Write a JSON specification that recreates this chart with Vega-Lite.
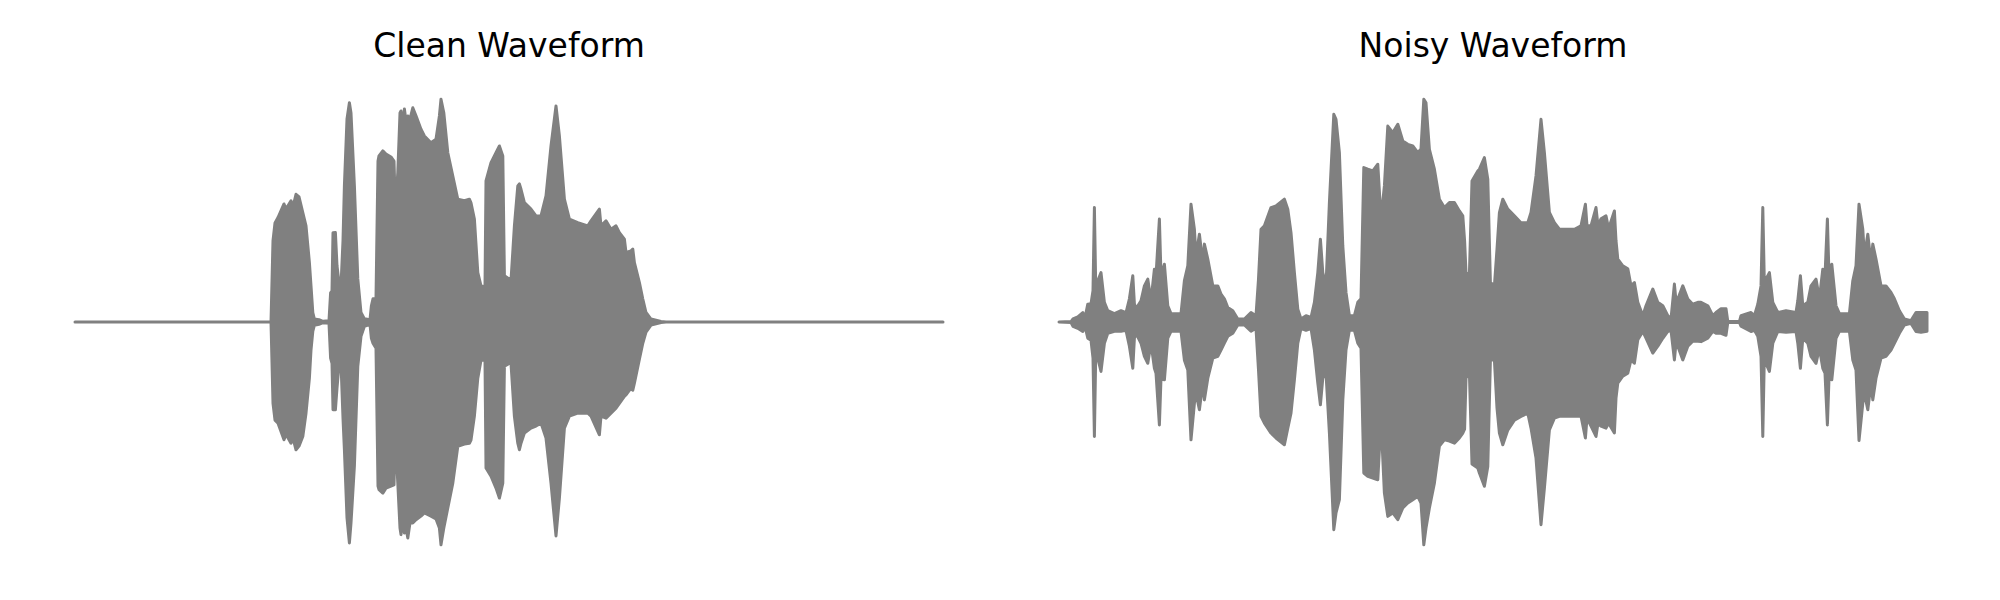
{
  "$schema": "https://vega.github.io/schema/vega-lite/v6.json",
  "background": "white",
  "padding": {"top": 31, "left": 73, "right": 0, "bottom": 0},
  "autosize": {"type": "pad"},
  "bounds": "flush",
  "spacing": 116,
  "config": {
    "view": {"stroke": null},
    "title": {"font": "DejaVu Sans", "fontSize": 33, "fontWeight": "normal", "color": "#000000", "offset": 21, "anchor": "middle"}
  },
  "datasets": {
    "clean": [
      {"t": 0, "hi": 0, "lo": 0}, {"t": 0.98, "hi": 0, "lo": 0}, {"t": 0.99, "hi": 0.36, "lo": -0.36}, {"t": 1.0, "hi": 0.439, "lo": -0.435},
      {"t": 1.015, "hi": 0.463, "lo": -0.448}, {"t": 1.045, "hi": 0.523, "lo": -0.522}, {"t": 1.055, "hi": 0.501, "lo": -0.497}, {"t": 1.08, "hi": 0.537, "lo": -0.537},
      {"t": 1.09, "hi": 0.51, "lo": -0.514}, {"t": 1.105, "hi": 0.566, "lo": -0.566}, {"t": 1.12, "hi": 0.554, "lo": -0.55}, {"t": 1.139, "hi": 0.485, "lo": -0.507},
      {"t": 1.155, "hi": 0.426, "lo": -0.404}, {"t": 1.172, "hi": 0.263, "lo": -0.249}, {"t": 1.18, "hi": 0.16, "lo": -0.124}, {"t": 1.189, "hi": 0.042, "lo": -0.041},
      {"t": 1.197, "hi": 0.013, "lo": -0.014}, {"t": 1.22, "hi": 0.01, "lo": -0.01}, {"t": 1.24, "hi": 0.003, "lo": -0.003}, {"t": 1.27, "hi": 0.006, "lo": -0.006},
      {"t": 1.278, "hi": 0.129, "lo": -0.16}, {"t": 1.285, "hi": 0.138, "lo": -0.183}, {"t": 1.29, "hi": 0.395, "lo": -0.389}, {"t": 1.302, "hi": 0.396, "lo": -0.389},
      {"t": 1.31, "hi": 0.249, "lo": -0.293}, {"t": 1.322, "hi": 0.16, "lo": -0.168}, {"t": 1.33, "hi": 0.16, "lo": -0.183}, {"t": 1.34, "hi": 0.36, "lo": -0.426},
      {"t": 1.347, "hi": 0.603, "lo": -0.566}, {"t": 1.36, "hi": 0.899, "lo": -0.868}, {"t": 1.372, "hi": 0.971, "lo": -0.979}, {"t": 1.38, "hi": 0.926, "lo": -0.89},
      {"t": 1.397, "hi": 0.603, "lo": -0.638}, {"t": 1.414, "hi": 0.191, "lo": -0.196}, {"t": 1.43, "hi": 0.042, "lo": -0.063}, {"t": 1.447, "hi": 0.014, "lo": -0.019},
      {"t": 1.475, "hi": 0.01, "lo": -0.01}, {"t": 1.482, "hi": 0.072, "lo": -0.072}, {"t": 1.49, "hi": 0.103, "lo": -0.094}, {"t": 1.505, "hi": 0.103, "lo": -0.116},
      {"t": 1.515, "hi": 0.713, "lo": -0.727}, {"t": 1.52, "hi": 0.736, "lo": -0.743}, {"t": 1.539, "hi": 0.758, "lo": -0.758}, {"t": 1.555, "hi": 0.744, "lo": -0.736},
      {"t": 1.58, "hi": 0.731, "lo": -0.727}, {"t": 1.595, "hi": 0.713, "lo": -0.722}, {"t": 1.602, "hi": 0.501, "lo": -0.492}, {"t": 1.614, "hi": 0.662, "lo": -0.714},
      {"t": 1.625, "hi": 0.926, "lo": -0.913}, {"t": 1.63, "hi": 0.935, "lo": -0.942}, {"t": 1.64, "hi": 0.868, "lo": -0.868}, {"t": 1.647, "hi": 0.944, "lo": -0.935},
      {"t": 1.655, "hi": 0.89, "lo": -0.913}, {"t": 1.664, "hi": 0.913, "lo": -0.957}, {"t": 1.675, "hi": 0.899, "lo": -0.89}, {"t": 1.689, "hi": 0.949, "lo": -0.89},
      {"t": 1.705, "hi": 0.913, "lo": -0.876}, {"t": 1.73, "hi": 0.854, "lo": -0.86}, {"t": 1.747, "hi": 0.824, "lo": -0.846}, {"t": 1.78, "hi": 0.794, "lo": -0.86},
      {"t": 1.805, "hi": 0.81, "lo": -0.873}, {"t": 1.822, "hi": 0.913, "lo": -0.913}, {"t": 1.83, "hi": 0.987, "lo": -0.987}, {"t": 1.844, "hi": 0.927, "lo": -0.913},
      {"t": 1.864, "hi": 0.75, "lo": -0.824}, {"t": 1.889, "hi": 0.647, "lo": -0.714}, {"t": 1.914, "hi": 0.544, "lo": -0.551}, {"t": 1.947, "hi": 0.537, "lo": -0.541},
      {"t": 1.972, "hi": 0.544, "lo": -0.537}, {"t": 1.98, "hi": 0.528, "lo": -0.523}, {"t": 1.997, "hi": 0.456, "lo": -0.417}, {"t": 2.014, "hi": 0.219, "lo": -0.249},
      {"t": 2.03, "hi": 0.16, "lo": -0.169}, {"t": 2.05, "hi": 0.156, "lo": -0.169}, {"t": 2.055, "hi": 0.625, "lo": -0.647}, {"t": 2.08, "hi": 0.706, "lo": -0.683},
      {"t": 2.105, "hi": 0.75, "lo": -0.736}, {"t": 2.122, "hi": 0.78, "lo": -0.78}, {"t": 2.139, "hi": 0.736, "lo": -0.714}, {"t": 2.147, "hi": 0.205, "lo": -0.196},
      {"t": 2.172, "hi": 0.19, "lo": -0.183}, {"t": 2.18, "hi": 0.183, "lo": -0.183}, {"t": 2.197, "hi": 0.426, "lo": -0.418}, {"t": 2.214, "hi": 0.603, "lo": -0.537},
      {"t": 2.222, "hi": 0.612, "lo": -0.566}, {"t": 2.23, "hi": 0.588, "lo": -0.537}, {"t": 2.247, "hi": 0.529, "lo": -0.492}, {"t": 2.28, "hi": 0.5, "lo": -0.47},
      {"t": 2.305, "hi": 0.47, "lo": -0.461}, {"t": 2.33, "hi": 0.47, "lo": -0.448}, {"t": 2.355, "hi": 0.559, "lo": -0.514}, {"t": 2.38, "hi": 0.78, "lo": -0.714},
      {"t": 2.405, "hi": 0.957, "lo": -0.948}, {"t": 2.422, "hi": 0.824, "lo": -0.78}, {"t": 2.447, "hi": 0.544, "lo": -0.47}, {"t": 2.472, "hi": 0.456, "lo": -0.417},
      {"t": 2.514, "hi": 0.44, "lo": -0.404}, {"t": 2.564, "hi": 0.426, "lo": -0.404}, {"t": 2.58, "hi": 0.448, "lo": -0.417}, {"t": 2.622, "hi": 0.5, "lo": -0.5},
      {"t": 2.63, "hi": 0.426, "lo": -0.417}, {"t": 2.655, "hi": 0.448, "lo": -0.426}, {"t": 2.68, "hi": 0.411, "lo": -0.404}, {"t": 2.705, "hi": 0.426, "lo": -0.382},
      {"t": 2.722, "hi": 0.396, "lo": -0.36}, {"t": 2.747, "hi": 0.367, "lo": -0.329}, {"t": 2.755, "hi": 0.308, "lo": -0.323}, {"t": 2.78, "hi": 0.315, "lo": -0.293},
      {"t": 2.789, "hi": 0.323, "lo": -0.302}, {"t": 2.797, "hi": 0.263, "lo": -0.271}, {"t": 2.822, "hi": 0.175, "lo": -0.165}, {"t": 2.839, "hi": 0.102, "lo": -0.094},
      {"t": 2.855, "hi": 0.042, "lo": -0.045}, {"t": 2.88, "hi": 0.013, "lo": -0.014}, {"t": 2.93, "hi": 0.002, "lo": -0.002}, {"t": 2.955, "hi": 0, "lo": 0},
      {"t": 4.34, "hi": 0, "lo": 0}
    ],
    "noisy": [
      {"t": 0, "hi": 0, "lo": 0}, {"t": 0.06, "hi": 0.002, "lo": -0.002}, {"t": 0.07, "hi": 0.014, "lo": -0.019}, {"t": 0.094, "hi": 0.023, "lo": -0.028},
      {"t": 0.119, "hi": 0.042, "lo": -0.042}, {"t": 0.13, "hi": 0.019, "lo": -0.019}, {"t": 0.144, "hi": 0.079, "lo": -0.072}, {"t": 0.16, "hi": 0.081, "lo": -0.081},
      {"t": 0.17, "hi": 0.138, "lo": -0.16}, {"t": 0.177, "hi": 0.507, "lo": -0.507}, {"t": 0.184, "hi": 0.138, "lo": -0.125}, {"t": 0.194, "hi": 0.183, "lo": -0.16},
      {"t": 0.21, "hi": 0.219, "lo": -0.219}, {"t": 0.227, "hi": 0.087, "lo": -0.094}, {"t": 0.244, "hi": 0.05, "lo": -0.05}, {"t": 0.277, "hi": 0.037, "lo": -0.041},
      {"t": 0.31, "hi": 0.05, "lo": -0.041}, {"t": 0.335, "hi": 0.041, "lo": -0.037}, {"t": 0.352, "hi": 0.103, "lo": -0.107}, {"t": 0.369, "hi": 0.205, "lo": -0.205},
      {"t": 0.377, "hi": 0.081, "lo": -0.072}, {"t": 0.385, "hi": 0.059, "lo": -0.05}, {"t": 0.41, "hi": 0.094, "lo": -0.094}, {"t": 0.427, "hi": 0.16, "lo": -0.152},
      {"t": 0.444, "hi": 0.19, "lo": -0.183}, {"t": 0.46, "hi": 0.094, "lo": -0.094}, {"t": 0.477, "hi": 0.234, "lo": -0.205}, {"t": 0.485, "hi": 0.205, "lo": -0.227},
      {"t": 0.502, "hi": 0.456, "lo": -0.456}, {"t": 0.51, "hi": 0.205, "lo": -0.249}, {"t": 0.527, "hi": 0.256, "lo": -0.256}, {"t": 0.544, "hi": 0.072, "lo": -0.072},
      {"t": 0.56, "hi": 0.037, "lo": -0.041}, {"t": 0.61, "hi": 0.037, "lo": -0.041}, {"t": 0.627, "hi": 0.183, "lo": -0.169}, {"t": 0.644, "hi": 0.249, "lo": -0.213},
      {"t": 0.66, "hi": 0.522, "lo": -0.522}, {"t": 0.677, "hi": 0.411, "lo": -0.36}, {"t": 0.685, "hi": 0.293, "lo": -0.315}, {"t": 0.702, "hi": 0.389, "lo": -0.389},
      {"t": 0.719, "hi": 0.262, "lo": -0.271}, {"t": 0.727, "hi": 0.345, "lo": -0.345}, {"t": 0.744, "hi": 0.279, "lo": -0.249}, {"t": 0.769, "hi": 0.16, "lo": -0.16},
      {"t": 0.794, "hi": 0.16, "lo": -0.152}, {"t": 0.81, "hi": 0.124, "lo": -0.124}, {"t": 0.827, "hi": 0.103, "lo": -0.094}, {"t": 0.844, "hi": 0.064, "lo": -0.063},
      {"t": 0.869, "hi": 0.05, "lo": -0.05}, {"t": 0.894, "hi": 0.013, "lo": -0.013}, {"t": 0.927, "hi": 0.013, "lo": -0.013}, {"t": 0.96, "hi": 0.042, "lo": -0.041},
      {"t": 0.985, "hi": 0.028, "lo": -0.028}, {"t": 0.997, "hi": 0.183, "lo": -0.205}, {"t": 1.01, "hi": 0.411, "lo": -0.418}, {"t": 1.027, "hi": 0.426, "lo": -0.448},
      {"t": 1.06, "hi": 0.507, "lo": -0.492}, {"t": 1.085, "hi": 0.514, "lo": -0.514}, {"t": 1.127, "hi": 0.544, "lo": -0.544}, {"t": 1.144, "hi": 0.5, "lo": -0.47},
      {"t": 1.16, "hi": 0.396, "lo": -0.404}, {"t": 1.177, "hi": 0.219, "lo": -0.256}, {"t": 1.194, "hi": 0.057, "lo": -0.094}, {"t": 1.21, "hi": 0.013, "lo": -0.028},
      {"t": 1.235, "hi": 0.028, "lo": -0.037}, {"t": 1.26, "hi": 0.02, "lo": -0.028}, {"t": 1.277, "hi": 0.087, "lo": -0.124}, {"t": 1.294, "hi": 0.219, "lo": -0.271},
      {"t": 1.307, "hi": 0.367, "lo": -0.367}, {"t": 1.319, "hi": 0.219, "lo": -0.249}, {"t": 1.335, "hi": 0.16, "lo": -0.227}, {"t": 1.352, "hi": 0.529, "lo": -0.492},
      {"t": 1.374, "hi": 0.92, "lo": -0.92}, {"t": 1.385, "hi": 0.898, "lo": -0.846}, {"t": 1.402, "hi": 0.75, "lo": -0.787}, {"t": 1.419, "hi": 0.337, "lo": -0.345},
      {"t": 1.435, "hi": 0.131, "lo": -0.124}, {"t": 1.452, "hi": 0.028, "lo": -0.035}, {"t": 1.477, "hi": 0.028, "lo": -0.037}, {"t": 1.494, "hi": 0.087, "lo": -0.094},
      {"t": 1.51, "hi": 0.103, "lo": -0.116}, {"t": 1.524, "hi": 0.684, "lo": -0.669}, {"t": 1.544, "hi": 0.677, "lo": -0.684}, {"t": 1.569, "hi": 0.669, "lo": -0.691},
      {"t": 1.594, "hi": 0.699, "lo": -0.699}, {"t": 1.61, "hi": 0.456, "lo": -0.433}, {"t": 1.627, "hi": 0.603, "lo": -0.758}, {"t": 1.644, "hi": 0.868, "lo": -0.861},
      {"t": 1.669, "hi": 0.839, "lo": -0.846}, {"t": 1.694, "hi": 0.876, "lo": -0.876}, {"t": 1.719, "hi": 0.802, "lo": -0.824}, {"t": 1.744, "hi": 0.787, "lo": -0.802},
      {"t": 1.769, "hi": 0.78, "lo": -0.787}, {"t": 1.794, "hi": 0.75, "lo": -0.772}, {"t": 1.81, "hi": 0.767, "lo": -0.802}, {"t": 1.824, "hi": 0.987, "lo": -0.987},
      {"t": 1.835, "hi": 0.971, "lo": -0.913}, {"t": 1.852, "hi": 0.765, "lo": -0.824}, {"t": 1.877, "hi": 0.677, "lo": -0.714}, {"t": 1.902, "hi": 0.544, "lo": -0.55},
      {"t": 1.927, "hi": 0.507, "lo": -0.522}, {"t": 1.952, "hi": 0.529, "lo": -0.528}, {"t": 1.977, "hi": 0.529, "lo": -0.537}, {"t": 2.002, "hi": 0.492, "lo": -0.514},
      {"t": 2.019, "hi": 0.47, "lo": -0.492}, {"t": 2.028, "hi": 0.36, "lo": -0.475}, {"t": 2.035, "hi": 0.219, "lo": -0.249}, {"t": 2.052, "hi": 0.213, "lo": -0.227},
      {"t": 2.065, "hi": 0.625, "lo": -0.629}, {"t": 2.094, "hi": 0.669, "lo": -0.647}, {"t": 2.102, "hi": 0.677, "lo": -0.669}, {"t": 2.127, "hi": 0.728, "lo": -0.728},
      {"t": 2.144, "hi": 0.633, "lo": -0.64}, {"t": 2.157, "hi": 0.175, "lo": -0.168}, {"t": 2.177, "hi": 0.16, "lo": -0.168}, {"t": 2.19, "hi": 0.323, "lo": -0.382},
      {"t": 2.202, "hi": 0.485, "lo": -0.492}, {"t": 2.219, "hi": 0.544, "lo": -0.544}, {"t": 2.244, "hi": 0.5, "lo": -0.479}, {"t": 2.277, "hi": 0.47, "lo": -0.435},
      {"t": 2.31, "hi": 0.44, "lo": -0.418}, {"t": 2.344, "hi": 0.44, "lo": -0.404}, {"t": 2.36, "hi": 0.485, "lo": -0.47}, {"t": 2.385, "hi": 0.647, "lo": -0.603},
      {"t": 2.41, "hi": 0.898, "lo": -0.898}, {"t": 2.427, "hi": 0.75, "lo": -0.736}, {"t": 2.452, "hi": 0.485, "lo": -0.478}, {"t": 2.477, "hi": 0.44, "lo": -0.426},
      {"t": 2.502, "hi": 0.411, "lo": -0.418}, {"t": 2.544, "hi": 0.411, "lo": -0.418}, {"t": 2.577, "hi": 0.411, "lo": -0.418}, {"t": 2.61, "hi": 0.426, "lo": -0.417},
      {"t": 2.632, "hi": 0.522, "lo": -0.514}, {"t": 2.64, "hi": 0.426, "lo": -0.426}, {"t": 2.66, "hi": 0.426, "lo": -0.461}, {"t": 2.685, "hi": 0.507, "lo": -0.507},
      {"t": 2.695, "hi": 0.426, "lo": -0.448}, {"t": 2.71, "hi": 0.457, "lo": -0.461}, {"t": 2.735, "hi": 0.47, "lo": -0.47}, {"t": 2.748, "hi": 0.413, "lo": -0.448},
      {"t": 2.777, "hi": 0.492, "lo": -0.492}, {"t": 2.785, "hi": 0.36, "lo": -0.337}, {"t": 2.794, "hi": 0.279, "lo": -0.271}, {"t": 2.819, "hi": 0.249, "lo": -0.24},
      {"t": 2.844, "hi": 0.236, "lo": -0.227}, {"t": 2.86, "hi": 0.16, "lo": -0.168}, {"t": 2.877, "hi": 0.175, "lo": -0.183}, {"t": 2.894, "hi": 0.087, "lo": -0.079},
      {"t": 2.919, "hi": 0.028, "lo": -0.042}, {"t": 2.935, "hi": 0.072, "lo": -0.072}, {"t": 2.969, "hi": 0.146, "lo": -0.138}, {"t": 2.994, "hi": 0.087, "lo": -0.107},
      {"t": 3.019, "hi": 0.072, "lo": -0.072}, {"t": 3.044, "hi": 0.028, "lo": -0.042}, {"t": 3.06, "hi": 0.014, "lo": -0.037}, {"t": 3.077, "hi": 0.168, "lo": -0.168},
      {"t": 3.085, "hi": 0.094, "lo": -0.094}, {"t": 3.094, "hi": 0.102, "lo": -0.107}, {"t": 3.119, "hi": 0.16, "lo": -0.168}, {"t": 3.144, "hi": 0.102, "lo": -0.107},
      {"t": 3.169, "hi": 0.079, "lo": -0.085}, {"t": 3.194, "hi": 0.087, "lo": -0.085}, {"t": 3.21, "hi": 0.087, "lo": -0.087}, {"t": 3.244, "hi": 0.072, "lo": -0.072},
      {"t": 3.269, "hi": 0.028, "lo": -0.041}, {"t": 3.285, "hi": 0.042, "lo": -0.05}, {"t": 3.31, "hi": 0.059, "lo": -0.05}, {"t": 3.335, "hi": 0.059, "lo": -0.059},
      {"t": 3.344, "hi": 0.002, "lo": -0.002}, {"t": 3.402, "hi": 0.002, "lo": -0.002}, {"t": 3.41, "hi": 0.028, "lo": -0.019}, {"t": 3.46, "hi": 0.042, "lo": -0.042},
      {"t": 3.477, "hi": 0.028, "lo": -0.037}, {"t": 3.494, "hi": 0.079, "lo": -0.063}, {"t": 3.51, "hi": 0.16, "lo": -0.152}, {"t": 3.519, "hi": 0.507, "lo": -0.507},
      {"t": 3.527, "hi": 0.16, "lo": -0.138}, {"t": 3.535, "hi": 0.19, "lo": -0.183}, {"t": 3.552, "hi": 0.219, "lo": -0.219}, {"t": 3.569, "hi": 0.087, "lo": -0.094},
      {"t": 3.594, "hi": 0.042, "lo": -0.042}, {"t": 3.635, "hi": 0.05, "lo": -0.045}, {"t": 3.685, "hi": 0.042, "lo": -0.042}, {"t": 3.694, "hi": 0.094, "lo": -0.094},
      {"t": 3.707, "hi": 0.205, "lo": -0.205}, {"t": 3.719, "hi": 0.072, "lo": -0.072}, {"t": 3.744, "hi": 0.087, "lo": -0.094}, {"t": 3.76, "hi": 0.16, "lo": -0.152},
      {"t": 3.785, "hi": 0.19, "lo": -0.183}, {"t": 3.802, "hi": 0.103, "lo": -0.116}, {"t": 3.819, "hi": 0.234, "lo": -0.205}, {"t": 3.83, "hi": 0.205, "lo": -0.227},
      {"t": 3.842, "hi": 0.456, "lo": -0.456}, {"t": 3.85, "hi": 0.205, "lo": -0.249}, {"t": 3.864, "hi": 0.256, "lo": -0.256}, {"t": 3.885, "hi": 0.072, "lo": -0.072},
      {"t": 3.902, "hi": 0.037, "lo": -0.041}, {"t": 3.952, "hi": 0.037, "lo": -0.041}, {"t": 3.969, "hi": 0.183, "lo": -0.169}, {"t": 3.985, "hi": 0.249, "lo": -0.213},
      {"t": 4.0, "hi": 0.522, "lo": -0.525}, {"t": 4.019, "hi": 0.411, "lo": -0.36}, {"t": 4.027, "hi": 0.293, "lo": -0.315}, {"t": 4.044, "hi": 0.389, "lo": -0.389},
      {"t": 4.06, "hi": 0.262, "lo": -0.271}, {"t": 4.069, "hi": 0.345, "lo": -0.345}, {"t": 4.085, "hi": 0.279, "lo": -0.249}, {"t": 4.11, "hi": 0.16, "lo": -0.16},
      {"t": 4.135, "hi": 0.16, "lo": -0.152}, {"t": 4.16, "hi": 0.131, "lo": -0.124}, {"t": 4.177, "hi": 0.103, "lo": -0.094}, {"t": 4.202, "hi": 0.05, "lo": -0.05},
      {"t": 4.227, "hi": 0.013, "lo": -0.013}, {"t": 4.26, "hi": 0.006, "lo": -0.006}, {"t": 4.285, "hi": 0.042, "lo": -0.042}, {"t": 4.31, "hi": 0.042, "lo": -0.045},
      {"t": 4.34, "hi": 0.042, "lo": -0.041}
    ]
  },
  "hconcat": [
    {
      "title": "Clean Waveform",
      "width": 868,
      "height": 474,
      "data": {"name": "clean"},
      "mark": {"type": "area", "color": "#808080", "stroke": "#808080", "strokeWidth": 3, "strokeJoin": "round", "opacity": 1},
      "encoding": {
        "x": {"field": "t", "type": "quantitative", "scale": {"domain": [0, 4.34], "nice": false, "zero": false}, "axis": null},
        "y": {"field": "hi", "type": "quantitative", "scale": {"domain": [-1.05, 1.05], "nice": false}, "axis": null},
        "y2": {"field": "lo"}
      }
    },
    {
      "title": "Noisy Waveform",
      "width": 868,
      "height": 474,
      "data": {"name": "noisy"},
      "mark": {"type": "area", "color": "#808080", "stroke": "#808080", "strokeWidth": 3, "strokeJoin": "round", "opacity": 1},
      "encoding": {
        "x": {"field": "t", "type": "quantitative", "scale": {"domain": [0, 4.34], "nice": false, "zero": false}, "axis": null},
        "y": {"field": "hi", "type": "quantitative", "scale": {"domain": [-1.05, 1.05], "nice": false}, "axis": null},
        "y2": {"field": "lo"}
      }
    }
  ]
}
